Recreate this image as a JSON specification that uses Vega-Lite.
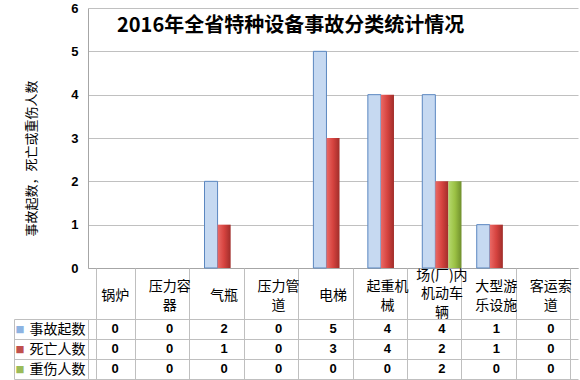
{
  "$schema": "https://vega.github.io/schema/vega-lite/v6.json",
  "padding": {"left": 13, "top": 2, "right": 3, "bottom": 1},
  "bounds": "flush",
  "spacing": 51,
  "config": {
    "font": "Noto Sans CJK SC",
    "view": {"stroke": null},
    "axis": {"labelColor": "#000000", "titleColor": "#000000"}
  },
  "datasets": {
    "acc": [
      {"category": "锅炉", "series": "事故起数", "value": 0},
      {"category": "锅炉", "series": "死亡人数", "value": 0},
      {"category": "锅炉", "series": "重伤人数", "value": 0},
      {"category": "压力容器", "series": "事故起数", "value": 0},
      {"category": "压力容器", "series": "死亡人数", "value": 0},
      {"category": "压力容器", "series": "重伤人数", "value": 0},
      {"category": "气瓶", "series": "事故起数", "value": 2},
      {"category": "气瓶", "series": "死亡人数", "value": 1},
      {"category": "气瓶", "series": "重伤人数", "value": 0},
      {"category": "压力管道", "series": "事故起数", "value": 0},
      {"category": "压力管道", "series": "死亡人数", "value": 0},
      {"category": "压力管道", "series": "重伤人数", "value": 0},
      {"category": "电梯", "series": "事故起数", "value": 5},
      {"category": "电梯", "series": "死亡人数", "value": 3},
      {"category": "电梯", "series": "重伤人数", "value": 0},
      {"category": "起重机械", "series": "事故起数", "value": 4},
      {"category": "起重机械", "series": "死亡人数", "value": 4},
      {"category": "起重机械", "series": "重伤人数", "value": 0},
      {"category": "场(厂)内机动车辆", "series": "事故起数", "value": 4},
      {"category": "场(厂)内机动车辆", "series": "死亡人数", "value": 2},
      {"category": "场(厂)内机动车辆", "series": "重伤人数", "value": 2},
      {"category": "大型游乐设施", "series": "事故起数", "value": 1},
      {"category": "大型游乐设施", "series": "死亡人数", "value": 1},
      {"category": "大型游乐设施", "series": "重伤人数", "value": 0},
      {"category": "客运索道", "series": "事故起数", "value": 0},
      {"category": "客运索道", "series": "死亡人数", "value": 0},
      {"category": "客运索道", "series": "重伤人数", "value": 0}
    ]
  },
  "data": {"name": "acc"},
  "vconcat": [
    {
      "width": 490,
      "height": 260,
      "title": {
        "text": "2016年全省特种设备事故分类统计情况",
        "anchor": "start",
        "orient": "top",
        "frame": "group",
        "offset": -16,
        "dx": 29,
        "dy": 28,
        "baseline": "middle",
        "fontSize": 20,
        "fontWeight": "bold",
        "color": "#000000"
      },
      "transform": [{"filter": "datum.value > 0"}],
      "encoding": {
        "x": {
          "field": "category",
          "type": "nominal",
          "scale": {
            "domain": ["锅炉", "压力容器", "气瓶", "压力管道", "电梯", "起重机械", "场(厂)内机动车辆", "大型游乐设施", "客运索道"],
            "paddingInner": 0.28,
            "paddingOuter": 0.14
          },
          "axis": {"title": null, "labels": false, "ticks": false, "grid": false, "domainColor": "#a6a6a6"}
        },
        "xOffset": {
          "field": "series",
          "type": "nominal",
          "scale": {"domain": ["事故起数", "死亡人数", "重伤人数"], "paddingInner": 0, "paddingOuter": 0}
        },
        "y": {
          "field": "value",
          "type": "quantitative",
          "scale": {"domain": [0, 6], "nice": false},
          "axis": {
            "values": [0, 1, 2, 3, 4, 5, 6],
            "title": "事故起数，死亡或重伤人数",
            "titleFontSize": 13,
            "titleFontWeight": "normal",
            "titlePadding": 32,
            "titleY": 150,
            "labelFont": "Liberation Sans",
            "labelFontWeight": "bold",
            "labelFontSize": 13,
            "labelPadding": 10,
            "ticks": false,
            "domainColor": "#a6a6a6",
            "gridColor": "#c0c0c0"
          }
        }
      },
      "layer": [
        {
          "transform": [{"filter": "datum.series == '事故起数'"}],
          "mark": {"type": "bar", "fill": "#c6d9f1", "stroke": "#5b87c0", "strokeWidth": 1}
        },
        {
          "transform": [{"filter": "datum.series == '死亡人数'"}],
          "mark": {
            "type": "bar",
            "color": {
              "gradient": "linear", "x1": 0, "y1": 0, "x2": 1, "y2": 0,
              "stops": [
                {"offset": 0, "color": "#ea6a66"},
                {"offset": 0.5, "color": "#d6433f"},
                {"offset": 1, "color": "#a02d2a"}
              ]
            }
          }
        },
        {
          "transform": [{"filter": "datum.series == '重伤人数'"}],
          "mark": {
            "type": "bar",
            "color": {
              "gradient": "linear", "x1": 0, "y1": 0, "x2": 1, "y2": 0,
              "stops": [
                {"offset": 0, "color": "#b5d96e"},
                {"offset": 0.5, "color": "#9bc144"},
                {"offset": 1, "color": "#6f8f2c"}
              ]
            }
          }
        }
      ]
    },
    {
      "width": 490,
      "height": 60,
      "layer": [
        {
          "mark": {"type": "text", "font": "Liberation Sans", "fontWeight": "bold", "fontSize": 13, "color": "#000000"},
          "encoding": {
            "x": {
              "field": "category",
              "type": "nominal",
              "scale": {
                "domain": ["锅炉", "压力容器", "气瓶", "压力管道", "电梯", "起重机械", "场(厂)内机动车辆", "大型游乐设施", "客运索道"],
                "paddingInner": 0.28,
                "paddingOuter": 0.14
              },
              "axis": {
                "orient": "top",
                "title": null,
                "labels": false,
                "tickBand": "extent",
                "tickSize": 51,
                "tickColor": "#bfbfbf",
                "domainColor": "#bfbfbf",
                "grid": true,
                "gridColor": "#bfbfbf"
              }
            },
            "y": {
              "field": "series",
              "type": "nominal",
              "scale": {"domain": ["事故起数", "死亡人数", "重伤人数"]},
              "axis": {
                "title": null,
                "tickBand": "extent",
                "tickSize": 74,
                "tickColor": "#bfbfbf",
                "domainColor": "#bfbfbf",
                "grid": true,
                "gridColor": "#bfbfbf",
                "labelPadding": -71,
                "labelFontSize": 14
              }
            },
            "text": {"field": "value", "type": "quantitative"}
          }
        },
        {
          "mark": {"type": "point", "opacity": 0},
          "encoding": {
            "x": {
              "field": "category",
              "type": "nominal",
              "axis": {
                "orient": "top",
                "title": null,
                "values": ["场(厂)内机动车辆"],
                "ticks": false,
                "domain": false,
                "grid": false,
                "labelAngle": 0,
                "labelPadding": 44,
                "labelBaseline": "middle",
                "labelFontSize": 14,
                "labelLineHeight": 18.5,
                "labelExpr": "['场(厂)内', '机动车', '辆']"
              }
            },
            "y": {"field": "series", "type": "nominal", "scale": {"domain": ["事故起数", "死亡人数", "重伤人数"]}, "axis": null}
          }
        },
        {
          "mark": {"type": "point", "opacity": 0},
          "encoding": {
            "x": {
              "field": "category",
              "type": "nominal",
              "axis": {
                "orient": "top",
                "title": null,
                "values": ["压力容器", "压力管道", "起重机械", "大型游乐设施", "客运索道"],
                "ticks": false,
                "domain": false,
                "grid": false,
                "labelAngle": 0,
                "labelPadding": 33,
                "labelBaseline": "middle",
                "labelFontSize": 14,
                "labelLineHeight": 19,
                "labelExpr": "[substring(datum.label, 0, 3), substring(datum.label, 3)]"
              }
            },
            "y": {"field": "series", "type": "nominal", "scale": {"domain": ["事故起数", "死亡人数", "重伤人数"]}, "axis": null}
          }
        },
        {
          "mark": {"type": "point", "opacity": 0},
          "encoding": {
            "x": {
              "field": "category",
              "type": "nominal",
              "axis": {
                "orient": "top",
                "title": null,
                "values": ["锅炉", "气瓶", "电梯"],
                "ticks": false,
                "domain": false,
                "grid": false,
                "labelAngle": 0,
                "labelPadding": 24,
                "labelBaseline": "middle",
                "labelFontSize": 14
              }
            },
            "y": {"field": "series", "type": "nominal", "scale": {"domain": ["事故起数", "死亡人数", "重伤人数"]}, "axis": null}
          }
        },
        {
          "mark": {"type": "point", "opacity": 0},
          "encoding": {
            "y": {
              "field": "series",
              "type": "nominal",
              "scale": {"domain": ["事故起数", "死亡人数", "重伤人数"]},
              "axis": {
                "title": null,
                "orient": "left",
                "offset": 74,
                "ticks": false,
                "grid": false,
                "domainColor": "#bfbfbf",
                "labelPadding": -10,
                "labelFontSize": 9,
                "labelExpr": "'■'",
                "labelColor": {
                  "condition": [
                    {"test": "datum.value == '事故起数'", "value": "#8db3e2"},
                    {"test": "datum.value == '死亡人数'", "value": "#c0504d"}
                  ],
                  "value": "#9bbb59"
                }
              }
            }
          }
        }
      ],
      "resolve": {"scale": {"y": "independent"}, "axis": {"x": "independent"}}
    }
  ]
}
